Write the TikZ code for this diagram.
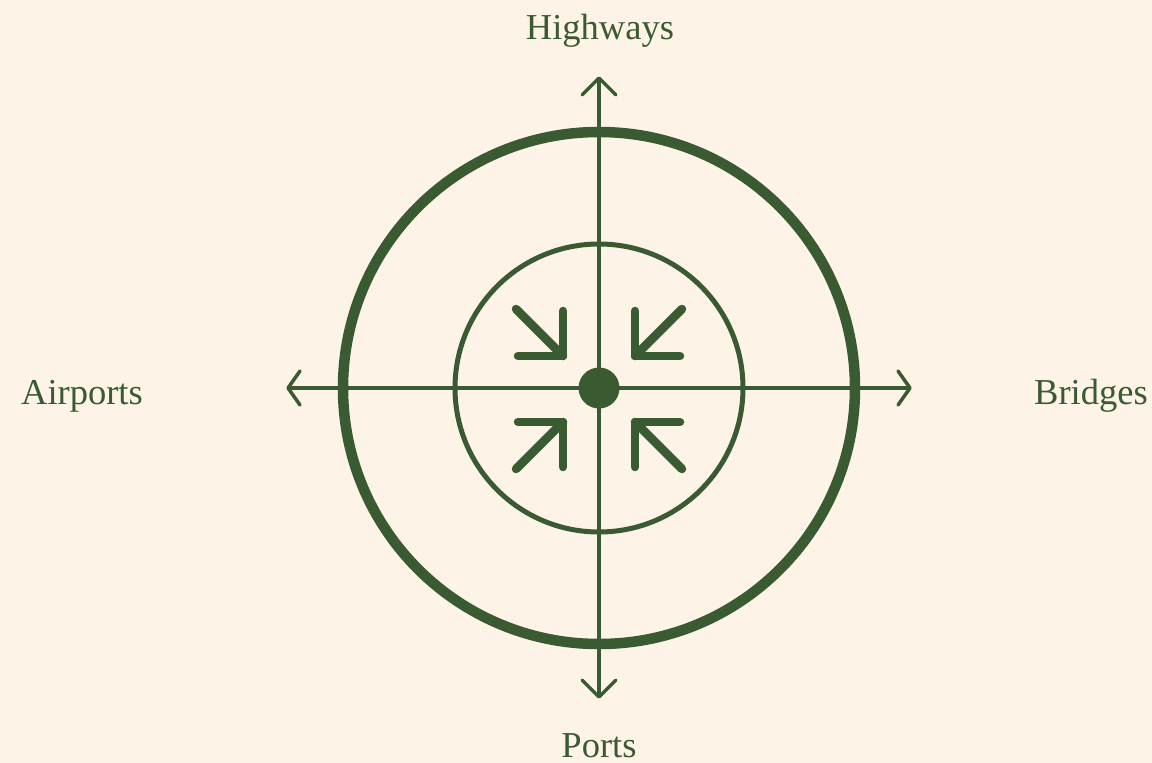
\documentclass[tikz,border=0pt]{standalone}
\usepackage{fontspec}
\setmainfont{Liberation Serif}
\definecolor{bg}{HTML}{FDF3E6}
\definecolor{grn}{HTML}{3A5A32}
\begin{document}
\begin{tikzpicture}[x=1pt,y=-1pt,
  axis/.style={draw=grn,line width=3.5pt},
  chev/.style={draw=grn,line width=3.5pt,line cap=round,line join=round},
  smallarrow/.style={draw=grn,line width=8.5pt,line cap=round,line join=round},
  lbl/.style={text=grn,font=\fontsize{36.5}{40}\selectfont,anchor=base,inner sep=0pt}]
\fill[bg] (0,0) rectangle (1152,763);
\useasboundingbox (0,0) rectangle (1152,763);
\coordinate (c) at (599,388);
% circles
\draw[grn,line width=10.5pt] (c) circle (256);
\draw[grn,line width=5pt] (c) circle (144);
% axes ends
\coordinate (top) at (599,78);
\coordinate (bot) at (599,697);
\coordinate (lft) at (288,388);
\coordinate (rgt) at (910,388);
\draw[axis] (top) -- (bot);
\draw[axis] (lft) -- (rgt);
% chevrons
\draw[chev] ([shift={(-17,17)}]top) -- (top) -- ([shift={(17,17)}]top);
\draw[chev] ([shift={(-17,-17)}]bot) -- (bot) -- ([shift={(17,-17)}]bot);
\draw[chev] ([shift={(12,-17)}]lft) -- (lft) -- ([shift={(12,17)}]lft);
\draw[chev] ([shift={(-12,-17)}]rgt) -- (rgt) -- ([shift={(-12,17)}]rgt);
% centre dot
\fill[grn] (c) circle (20.5);
% small arrows pointing toward centre
\coordinate (ul) at (563,356);
\coordinate (ur) at (635,356);
\coordinate (ll) at (563,422);
\coordinate (lr) at (635,422);
\draw[smallarrow] ([shift={(-47,-47)}]ul) -- (ul);
\draw[smallarrow] ([shift={(-45,0)}]ul) -- (ul) -- ([shift={(0,-45)}]ul);
\draw[smallarrow] ([shift={(47,-47)}]ur) -- (ur);
\draw[smallarrow] ([shift={(45,0)}]ur) -- (ur) -- ([shift={(0,-45)}]ur);
\draw[smallarrow] ([shift={(-47,47)}]ll) -- (ll);
\draw[smallarrow] ([shift={(-45,0)}]ll) -- (ll) -- ([shift={(0,45)}]ll);
\draw[smallarrow] ([shift={(47,47)}]lr) -- (lr);
\draw[smallarrow] ([shift={(45,0)}]lr) -- (lr) -- ([shift={(0,45)}]lr);
% labels
\node[lbl] (hw) at (600,39) {Highways};
\node[lbl] (ap) at (82,404) {Airports};
\node[lbl] (br) at (1091,404) {Bridges};
\node[lbl] (pt) at (599,757) {Ports};
\end{tikzpicture}
\end{document}
